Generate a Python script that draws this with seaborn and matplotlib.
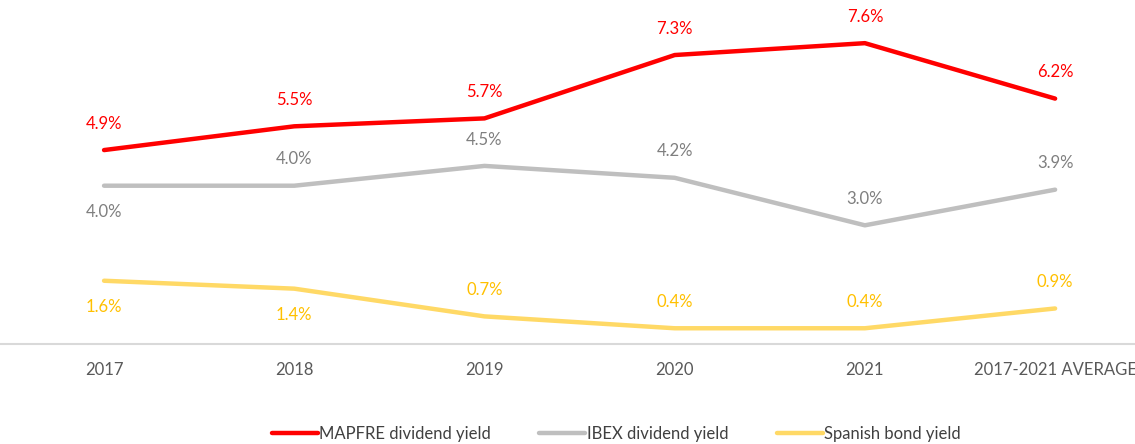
import matplotlib
matplotlib.use("Agg")
import matplotlib.pyplot as plt
import seaborn as sns
import pandas as pd

categories = ["2017", "2018", "2019", "2020", "2021", "2017-2021 AVERAGE"]
mapfre = [4.9, 5.5, 5.7, 7.3, 7.6, 6.2]
ibex = [4.0, 4.0, 4.5, 4.2, 3.0, 3.9]
bond = [1.6, 1.4, 0.7, 0.4, 0.4, 0.9]
series_names = ["MAPFRE dividend yield", "IBEX dividend yield", "Spanish bond yield"]

sns.set_theme(style="white")
plt.rcParams["font.family"] = ["Lato", "DejaVu Sans"]

rows = []
for name, vals in zip(series_names, [mapfre, ibex, bond]):
    for i, (c, v) in enumerate(zip(categories, vals)):
        rows.append({"idx": i, "cat": c, "value": v, "series": name})
df = pd.DataFrame(rows)

colors = {"MAPFRE dividend yield": "#FF0000",
          "IBEX dividend yield": "#BFBFBF",
          "Spanish bond yield": "#FFD966"}
label_colors = {"MAPFRE dividend yield": "#FF0000",
                "IBEX dividend yield": "#7F7F7F",
                "Spanish bond yield": "#FFC000"}

fig = plt.figure(figsize=(11.35, 4.44), dpi=100)
ax = fig.add_axes([0, 0.225, 1, 0.775])
sns.lineplot(data=df, x="idx", y="value", hue="series", hue_order=series_names,
             palette=colors, linewidth=3.2, ax=ax, legend=True)

# label placement: +1 above, -1 below
placement = {
    "MAPFRE dividend yield": [1, 1, 1, 1, 1, 1],
    "IBEX dividend yield": [-1, 1, 1, 1, 1, 1],
    "Spanish bond yield": [-1, -1, 1, 1, 1, 1],
}
for name, vals in zip(series_names, [mapfre, ibex, bond]):
    for i, v in enumerate(vals):
        p = placement[name][i]
        ax.annotate(f"{v:.1f}%", (i, v), xytext=(0, 19 * p), textcoords="offset points",
                    ha="center", va="center", fontsize=12, color=label_colors[name])

ax.set_xlim(-0.547, 5.42)
ax.set_ylim(0, 8.69)
ax.set_xticks(range(len(categories)))
ax.set_xticklabels(categories, fontsize=12, color="#595959")
ax.tick_params(axis="x", length=0, pad=13)
ax.set_yticks([])
ax.set_xlabel("")
ax.set_ylabel("")
for s in ["top", "left", "right"]:
    ax.spines[s].set_visible(False)
ax.spines["bottom"].set_color("#D9D9D9")
ax.spines["bottom"].set_linewidth(1.5)

handles, labels = ax.get_legend_handles_labels()
ax.get_legend().remove()
leg = fig.legend(handles, labels, loc="center", bbox_to_anchor=(0.543, 0.0225), ncol=3,
                 frameon=False, fontsize=12, handlelength=2.75, handletextpad=0.1,
                 columnspacing=2.9)
for t in leg.get_texts():
    t.set_color("#404040")

fig.savefig("out.png", dpi=100)
